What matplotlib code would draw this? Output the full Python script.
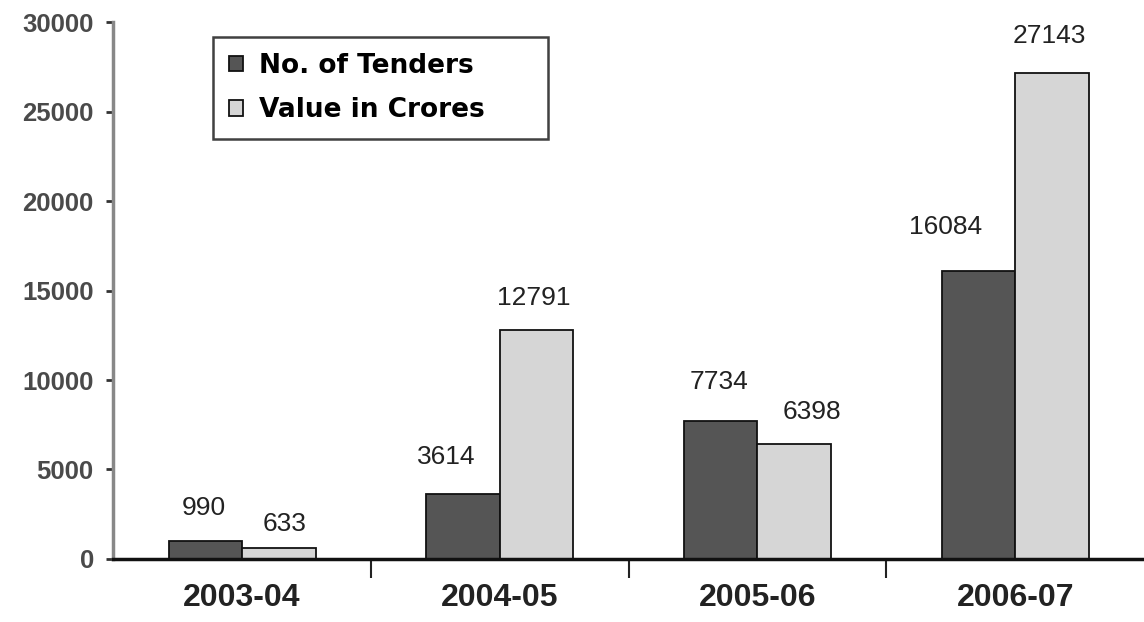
import numpy as np
import matplotlib.pyplot as plt

years = ['2003-04', '2004-05', '2005-06', '2006-07']
tenders = [990, 3614, 7734, 16084]
crores = [633, 12791, 6398, 27143]
yticks = [0, 5000, 10000, 15000, 20000, 25000, 30000]

# label nudges (in points) to follow the hand-placed labels of the original
t_dx = [-1, -12, -1, -24]
t_dy = [19, 22, 23, 27]
c_dx = [4, -2, 13, -2]
c_dy = [12, 18, 18, 22]

plt.rcParams['font.family'] = ['Liberation Sans', 'DejaVu Sans']

fig = plt.figure(figsize=(11.44, 6.22), dpi=100)
ax = fig.add_axes([0.099, 0.1013, 0.901, 0.8633])

x = np.arange(len(years))
w = 0.285
ax.bar(x - w/2, tenders, w, color='#555555', edgecolor='#111111', linewidth=1.3, label='No. of Tenders')
ax.bar(x + w/2, crores, w, color='#d6d6d6', edgecolor='#111111', linewidth=1.3, label='Value in Crores')

for xi, v, dx, dy in zip(x - w/2, tenders, t_dx, t_dy):
    ax.annotate(str(v), (xi, v), xytext=(dx, dy), textcoords='offset points',
                ha='center', va='baseline', fontsize=19, color='#222222')
for xi, v, dx, dy in zip(x + w/2, crores, c_dx, c_dy):
    ax.annotate(str(v), (xi, v), xytext=(dx, dy), textcoords='offset points',
                ha='center', va='baseline', fontsize=19, color='#222222')

ax.set_xlim(-0.5, 3.5)
ax.set_ylim(0, 30000)
ax.set_yticks(yticks)
ax.set_yticklabels([str(t) for t in yticks], fontsize=18.5, fontweight='bold', color='#4a4a4a')
ax.tick_params(axis='y', length=5, width=2, color='#333333', pad=9)

ax.set_xticks(x)
ax.set_xticklabels(years, fontsize=23, fontweight='bold', color='#222222')
ax.tick_params(axis='x', which='major', length=0, pad=17)
ax.set_xticks([0.5, 1.5, 2.5], minor=True)
ax.tick_params(axis='x', which='minor', length=14, width=1.5, color='#222222')

for s in ['top', 'right']:
    ax.spines[s].set_visible(False)
ax.spines['left'].set_color('#888888')
ax.spines['left'].set_linewidth(2.5)
ax.spines['bottom'].set_linewidth(2.5)
ax.spines['bottom'].set_color('#111111')

leg = ax.legend(loc='upper left', mode='expand',
                bbox_to_anchor=(213/1144, 1 - 37/622 - 0.01, 335/1144, 0.01), bbox_transform=fig.transFigure,
                borderaxespad=0, frameon=True, fancybox=False,
                prop={'family': 'DejaVu Sans', 'weight': 'bold', 'size': 19},
                handlelength=0.55, handleheight=0.55, handletextpad=0.6, borderpad=0.6,
                labelspacing=0.7)
leg.get_frame().set_edgecolor('#111111')
leg.get_frame().set_linewidth(1.8)

fig.savefig('out.png', dpi=100)
